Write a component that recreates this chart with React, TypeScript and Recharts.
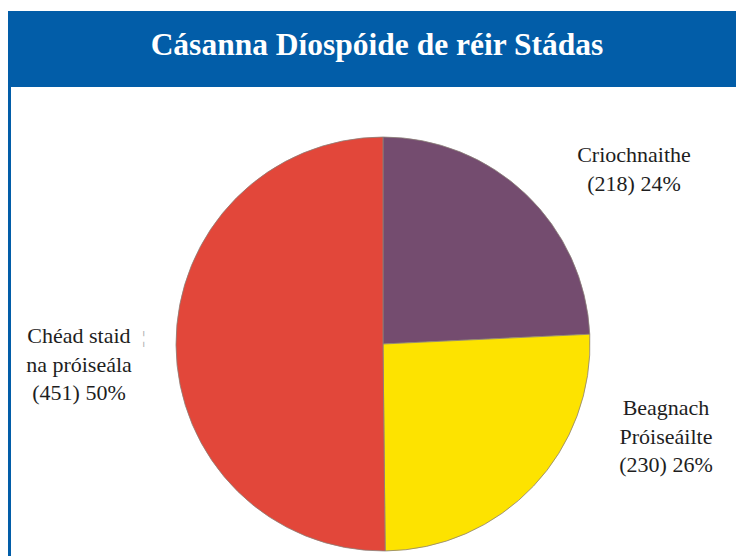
import * as React from "react";
import { Pie, PieChart, Cell } from "recharts";

// Cásanna de réir stádais
const statuses = ["Criochnaithe", "Beagnach Próiseáilte", "Chéad staid na próiseála"];
const caseCounts = [218, 230, 451];
const percentLabels = ["24%", "26%", "50%"];
const labelLines = [
  ["Criochnaithe", "(218) 24%"],
  ["Beagnach", "Próiseáilte", "(230) 26%"],
  ["Chéad staid", "na próiseála", "(451) 50%"],
];

const sliceColors = ["#744C6F", "#FDE300", "#E2473A"];

// label anchor offsets from the pie centre (layout only)
const labelAnchors = [
  { dx: 251, dy: -182 },
  { dx: 283, dy: 71 },
  { dx: -304, dy: -1 },
];

const data = statuses.map((name, i) => ({
  name,
  value: caseCounts[i],
  pct: percentLabels[i],
}));

const FONT = "Liberation Serif";

const renderLabel = (props: any) => {
  const { cx, cy, index } = props;
  const a = labelAnchors[index];
  const x = cx + a.dx;
  const y0 = cy + a.dy;
  return (
    <g key={`lbl-${index}`}>
      {labelLines[index].map((line, i) => (
        <text
          key={i}
          x={x}
          y={y0 + i * 28.5}
          textAnchor="middle"
          fill="#1e1e1e"
          fontFamily={FONT}
          fontSize={22}
        >
          {line}
        </text>
      ))}
      {index === 2 && (
        <text x={x + 63} y={y0} fill="#aaa" fontFamily={FONT} fontSize={17}>
          ¦
        </text>
      )}
    </g>
  );
};

export default function App() {
  return (
    <div
      style={{
        position: "absolute",
        left: 0,
        top: 0,
        width: 736,
        height: 556,
        background: "#fff",
        overflow: "hidden",
      }}
    >
      {/* header band */}
      <div
        style={{
          position: "absolute",
          left: 8,
          top: 11,
          width: 728,
          height: 76,
          background: "#025DA8",
        }}
      />
      <div
        style={{
          position: "absolute",
          left: 18,
          top: 29,
          width: 718,
          lineHeight: "31px",
          textAlign: "center",
          color: "#fff",
          fontFamily: FONT,
          fontWeight: "bold",
          fontSize: 31.5,
        }}
      >
        Cásanna Díospóide de réir Stádas
      </div>
      {/* left frame line */}
      <div
        style={{
          position: "absolute",
          left: 8,
          top: 87,
          width: 3,
          height: 469,
          background: "#025DA8",
        }}
      />

      <div style={{ position: "absolute", left: 0, top: 0 }}>
        <PieChart
          width={736}
          height={556}
          margin={{ top: 0, right: 0, bottom: 0, left: 0 }}
        >
          <Pie
            data={data}
            dataKey="value"
            nameKey="name"
            cx={383}
            cy={344}
            innerRadius={0}
            outerRadius={207}
            startAngle={90}
            endAngle={-270}
            stroke="#8c8078"
            strokeWidth={0.8}
            label={renderLabel}
            labelLine={false}
            isAnimationActive={false}
          >
            {data.map((d, i) => (
              <Cell key={d.name} fill={sliceColors[i]} />
            ))}
          </Pie>
        </PieChart>
      </div>
    </div>
  );
}
